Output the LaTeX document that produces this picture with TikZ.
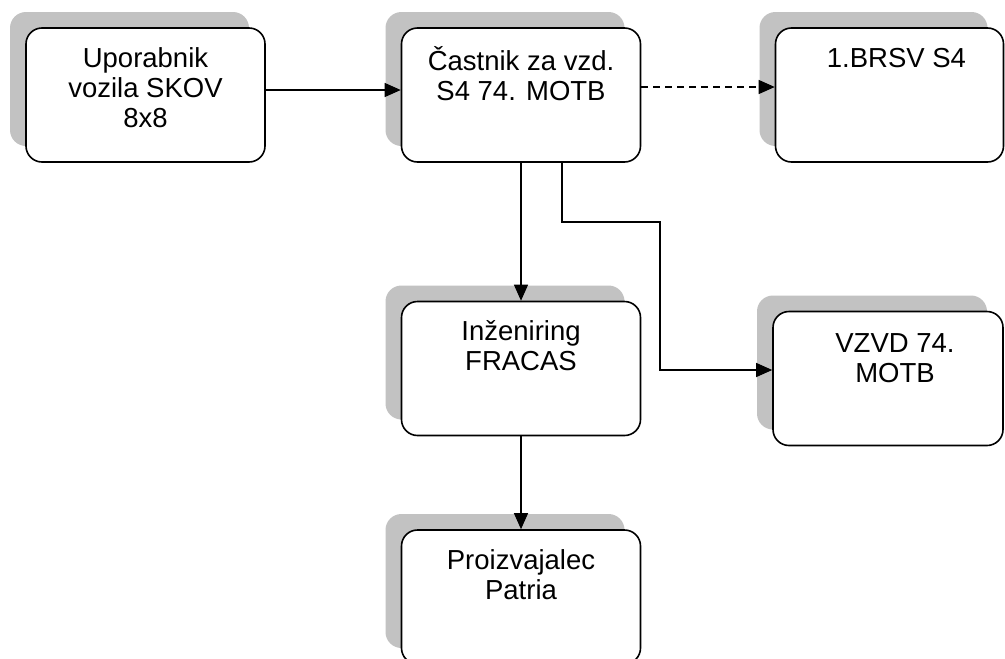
\documentclass[tikz,border=0pt]{standalone}
\usepackage{fontspec}
\setmainfont{Liberation Sans}
\usetikzlibrary{arrows.meta,shadows}
\newcommand{\boxfont}{\fontsize{27.5pt}{30pt}\selectfont}
\begin{document}
\begin{tikzpicture}[x=1pt,y=-1pt,
  box/.style={draw, line width=1.6pt, rounded corners=16pt, fill=white,
    minimum width=239pt, minimum height=134pt, inner sep=0pt,
    general shadow={fill=gray!48, shadow xshift=-16pt, shadow yshift=16pt}},
  boxtext/.style={anchor=north, yshift=-19pt, align=center, inner sep=0pt, font=\boxfont},
  conn/.style={line width=1.2pt, -{Triangle[length=16pt,width=14pt]}},
  dashconn/.style={conn, dash pattern=on 7pt off 5pt}
]
\clip (0,0) rectangle (1005,659);
\fill[white] (0,0) rectangle (1005,659);

\node[box, label={[boxtext]north:\strut Uporabnik\\vozila SKOV\\8x8}] (b1) at (145.5,95) {};
\node[box, label={[boxtext]north:\strut Častnik za vzd.\\S4 74. MOTB}] (b2) at (521,95) {};
\node[box, minimum width=228pt, label={[boxtext, xshift=7pt]north:\strut 1.BRSV S4}] (b3) at (889.5,95) {};
\node[box, label={[boxtext]north:\strut Inženiring\\FRACAS}] (b4) at (521,368.5) {};
\node[box, minimum width=230pt, label={[boxtext, xshift=7pt, yshift=-2pt]north:\strut VZVD 74.\\MOTB}] (b5) at (888,378.5) {};
\node[box, label={[boxtext]north:\strut Proizvajalec\\Patria}] (b6) at (521,597) {};

\coordinate (k1) at (660,222);

\draw[conn] ([yshift=5pt]b1.east) -- ([yshift=5pt]b2.west);
\draw[dashconn] ([yshift=8pt]b2.east) -- ([yshift=8pt]b3.west);
\draw[conn] (b2.south) -- (b4.north);
\draw[conn] ([xshift=41pt]b2.south) |- (k1) |- ([yshift=8.5pt]b5.west);
\draw[conn] (b4.south) -- (b6.north);
\end{tikzpicture}
\end{document}
